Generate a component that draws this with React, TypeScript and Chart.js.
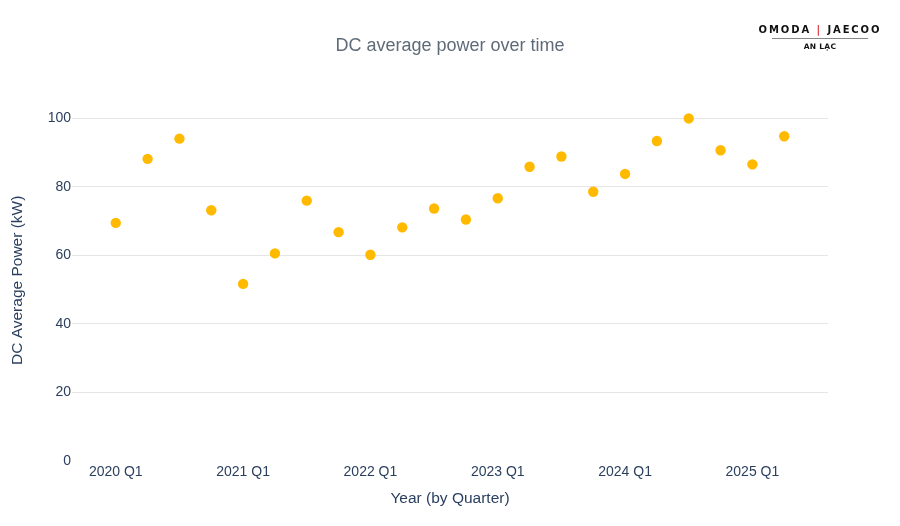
import React, { useEffect, useRef } from 'react';
import { Chart, registerables } from 'chart.js';

Chart.register(...registerables);

const quarters = [
  '2020 Q1', '2020 Q2', '2020 Q3', '2020 Q4',
  '2021 Q1', '2021 Q2', '2021 Q3', '2021 Q4',
  '2022 Q1', '2022 Q2', '2022 Q3', '2022 Q4',
  '2023 Q1', '2023 Q2', '2023 Q3', '2023 Q4',
  '2024 Q1', '2024 Q2', '2024 Q3', '2024 Q4',
  '2025 Q1', '2025 Q2',
];

const dcAveragePower = [
  69.5, 88.2, 94.1, 73.2,
  51.7, 60.6, 76.0, 66.8,
  60.2, 68.2, 73.7, 70.5,
  76.7, 85.9, 88.9, 78.6,
  83.8, 93.4, 100.0, 90.7,
  86.6, 94.8,
];

const xTickLabels = ['2020 Q1', '2021 Q1', '2022 Q1', '2023 Q1', '2024 Q1', '2025 Q1'];
const yTickValues = [0, 20, 40, 60, 80, 100];

const FONT = '"Liberation Sans", Arial, Helvetica, sans-serif';
const TICK_COLOR = '#2a3f5f';

export default function App() {
  const canvasRef = useRef<HTMLCanvasElement | null>(null);

  useEffect(() => {
    if (!canvasRef.current) return;
    const xTickIdx = xTickLabels.map((l) => quarters.indexOf(l));
    const chart = new Chart(canvasRef.current, {
      type: 'scatter',
      data: {
        datasets: [
          {
            label: 'DC Average Power',
            data: dcAveragePower.map((v, i) => ({ x: i, y: v })),
            backgroundColor: '#FFBA00',
            borderColor: '#FFBA00',
            borderWidth: 0,
            pointRadius: 5.2,
            pointHoverRadius: 5.2,
          },
        ],
      },
      options: {
        animation: false,
        responsive: true,
        maintainAspectRatio: false,
        layout: { padding: 0 },
        font: { family: FONT },
        plugins: {
          legend: { display: false },
          tooltip: { enabled: false },
          title: {
            display: true,
            text: 'DC average power over time',
            color: '#5f6b78',
            font: { family: FONT, size: 18, weight: 'normal' },
            padding: { top: 35, bottom: 43 },
          },
        },
        scales: {
          x: {
            type: 'linear',
            min: -1.375,
            max: 22.375,
            afterBuildTicks: (s: any) => {
              s.ticks = xTickIdx.map((v) => ({ value: v }));
            },
            afterFit: (s: any) => {
              s.height = 65;
            },
            grid: { display: false, drawTicks: false },
            border: { display: false },
            ticks: {
              autoSkip: false,
              maxRotation: 0,
              padding: 3,
              color: TICK_COLOR,
              font: { family: FONT, size: 14 },
              callback: (v: any) => quarters[Math.round(Number(v))] ?? '',
            },
            title: {
              display: true,
              text: 'Year (by Quarter)',
              color: TICK_COLOR,
              font: { family: FONT, size: 15.5 },
              padding: { top: 0, bottom: 18.4 },
            },
          },
          y: {
            type: 'linear',
            min: 0,
            max: 105.5,
            afterBuildTicks: (s: any) => {
              s.ticks = yTickValues.map((v) => ({ value: v }));
            },
            afterFit: (s: any) => {
              s.width = 72;
            },
            grid: {
              drawTicks: false,
              lineWidth: 1,
              color: (ctx: any) => (ctx.tick && ctx.tick.value === 0 ? 'rgba(0,0,0,0)' : '#e6e6e6'),
            },
            border: { display: false },
            ticks: {
              padding: 1,
              color: TICK_COLOR,
              font: { family: FONT, size: 14 },
            },
            title: {
              display: true,
              text: 'DC Average Power (kW)',
              color: TICK_COLOR,
              font: { family: FONT, size: 15.5 },
              padding: { top: 8, bottom: 0 },
            },
          },
          yRightSpacer: {
            type: 'linear',
            position: 'right',
            display: true,
            grid: { display: false, drawTicks: false },
            border: { display: false },
            ticks: { display: false },
            afterFit: (s: any) => {
              s.width = 72;
            },
          },
        },
      } as any,
    });
    return () => chart.destroy();
  }, []);

  return (
    <div style={{ position: 'absolute', left: 0, top: 0, width: 900, height: 526, background: '#fff' }}>
      <canvas ref={canvasRef} />
      <div
        style={{
          position: 'absolute',
          left: 740,
          top: 23,
          width: 160,
          textAlign: 'center',
          fontFamily: '"DejaVu Sans", sans-serif',
          color: '#111',
        }}
      >
        <div style={{ fontSize: 10, letterSpacing: 1.9, fontWeight: 600, lineHeight: '14px', whiteSpace: 'nowrap' }}>
          OMODA <span style={{ color: '#e0303a', fontWeight: 700 }}>|</span> JAECOO
        </div>
        <div style={{ margin: '1px auto 0', width: 96, height: 1, background: '#888' }} />
        <div style={{ fontSize: 7.5, fontWeight: 700, lineHeight: '15px', letterSpacing: 0.3 }}>AN LẠC</div>
      </div>
    </div>
  );
}
